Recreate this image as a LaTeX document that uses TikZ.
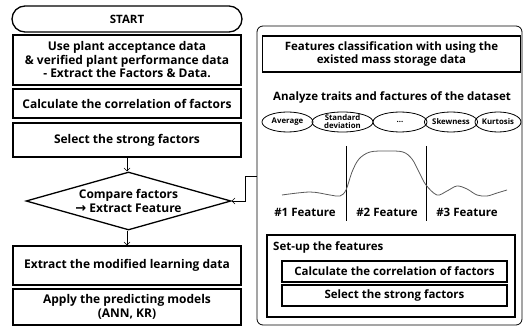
\documentclass[tikz,border=0pt]{standalone}
\usepackage{fontspec}
\setmainfont{Open Sans}
\newfontfamily\arrowfont{DejaVu Sans}
\usetikzlibrary{shapes.geometric,arrows.meta}
\begin{document}
\begin{tikzpicture}[x=1pt,y=-1pt,
  box/.style={draw, line width=1.3pt, inner sep=0pt, align=center, font=\bfseries\fontsize{12}{13.5}\selectfont},
  pill/.style={draw, ellipse, line width=0.8pt, inner sep=0pt, align=center, font=\bfseries\fontsize{7.8}{8.5}\selectfont},
  arr/.style={-{Straight Barb[length=3pt,width=6pt]}, line width=0.5pt},
  lbl/.style={font=\bfseries\fontsize{11.5}{13}\selectfont, inner sep=0pt}]
\useasboundingbox (0,0) rectangle (523,326);
% left column
\node[box, rounded corners=13pt, minimum width=230pt, minimum height=26pt, font=\bfseries\fontsize{11.5}{13}\selectfont] (start) at (127,19) {START};
\node[box, minimum width=228pt, minimum height=50pt] (use) at (127,60) {Use plant acceptance data\\ \& verified plant performance data\\ - Extract the Factors \& Data.};
\node[box, minimum width=228pt, minimum height=29pt] (calc) at (127,103.5) {Calculate the correlation of factors};
\node[box, minimum width=228pt, minimum height=34pt] (sel) at (127,140) {Select the strong factors};
\node[draw, diamond, aspect=3.5, line width=1.3pt, inner sep=0pt, minimum width=205pt, minimum height=58pt, align=center, font=\bfseries\fontsize{12}{14}\selectfont] (dia) at (128.5,201) {Compare factors\\ {\arrowfont\bfseries\fontsize{13}{14}\selectfont→} Extract Feature};
\node[box, minimum width=228pt, minimum height=39pt] (ext) at (127,265.5) {Extract the modified learning data};
\node[box, minimum width=228pt, minimum height=36pt] (app) at (127,307) {Apply the predicting models\\ (ANN, KR)};
\draw[arr] (sel.south -| 127,0) -- (dia.north -| 127,0);
\draw[arr] (dia.south -| 127,0) -- (ext.north -| 127,0);
% right panel
\node[draw, rounded corners=6pt, line width=0.8pt, minimum width=265pt, minimum height=299pt, inner sep=0pt] (panel) at (389.5,175.5) {};
\node[box, minimum width=258pt, minimum height=36pt, font=\bfseries\fontsize{11.5}{13.5}\selectfont] (fc) at (391.5,54) {Features classification with using the\\ existed mass storage data};
\node[lbl] (an) at (392,97) {Analyze traits and factures of the dataset};
\node[pill, minimum width=51pt, minimum height=20pt] (avg) at (287.5,122) {Average};
\node[pill, minimum width=61pt, minimum height=20pt, font=\bfseries\fontsize{7.8}{8}\selectfont] (std) at (342.5,122) {Standard\\ deviation};
\node[pill, minimum width=54pt, minimum height=20pt] (dots) at (400,122) {...};
\node[pill, minimum width=48pt, minimum height=20pt] (skew) at (451,122) {Skewness};
\node[pill, minimum width=46pt, minimum height=20pt] (kurt) at (498,122) {Kurtosis};
\coordinate (v1t) at (346,146); \coordinate (v1b) at (346,221);
\coordinate (v2t) at (426,146); \coordinate (v2b) at (426,221);
\draw[line width=0.5pt] (v1t) -- (v1b);
\draw[line width=0.5pt] (v2t) -- (v2b);
\draw[line width=0.8pt, gray!70!black] plot[smooth, tension=0.55] coordinates {(282,195) (310,192) (330,195) (340,196) (346,190) (352,172) (359,159) (370,152) (387,151) (403,152) (412,159) (419,172) (426,185) (437,195) (447,191) (457,186) (467,189) (477,195) (487,196) (497,193) (507,190)};
\node[lbl] (f1) at (305,212) {\#1 Feature};
\node[lbl] (f2) at (387,212) {\#2 Feature};
\node[lbl] (f3) at (467,212) {\#3 Feature};
\node[draw, line width=1.3pt, minimum width=248pt, minimum height=82pt, inner sep=0pt] (setup) at (391,276) {};
\node[lbl, anchor=west] (st) at (273,247) {Set-up the features};
\node[box, minimum width=225pt, minimum height=21pt, font=\bfseries\fontsize{11.5}{13}\selectfont] (c2) at (394.5,271.5) {Calculate the correlation of factors};
\node[box, minimum width=225pt, minimum height=21pt, font=\bfseries\fontsize{11.5}{13}\selectfont] (s2) at (394.5,295.5) {Select the strong factors};
\coordinate (pin) at (panel.west |- 0,176);
\draw[arr] (pin) -- (245,176) |- (dia.east);
\end{tikzpicture}
\end{document}
